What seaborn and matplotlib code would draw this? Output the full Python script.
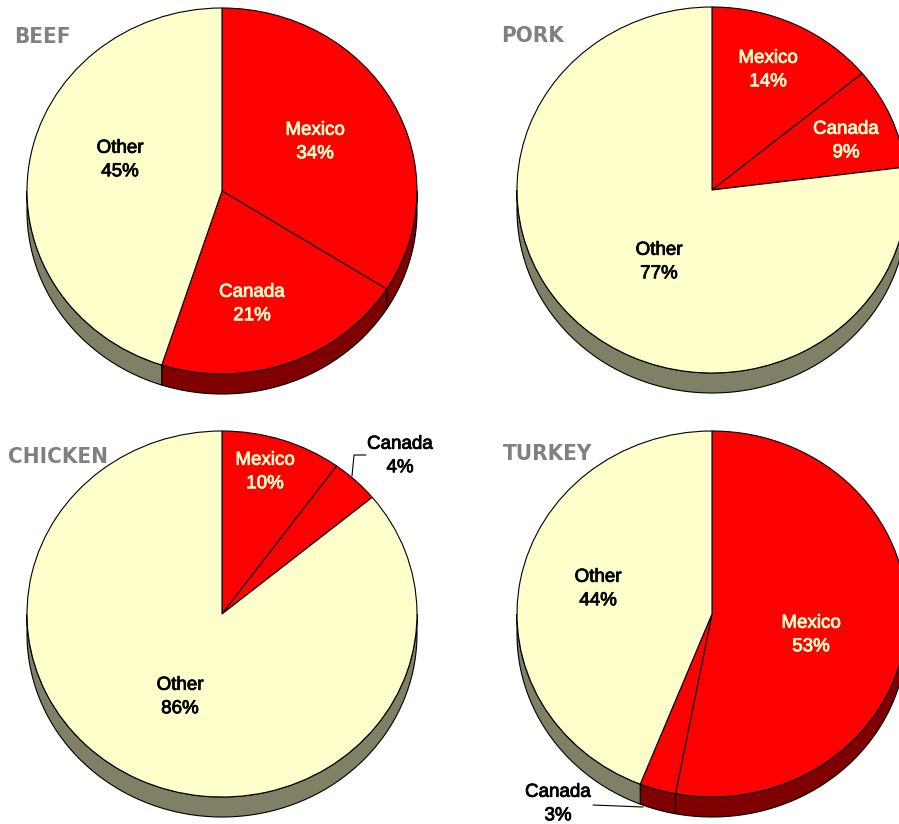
import numpy as np
import matplotlib
matplotlib.use("Agg")
import matplotlib.pyplot as plt
import matplotlib.patheffects as pe
import seaborn as sns

sns.set_theme(style="white")
plt.rcParams["font.family"] = ["Liberation Sans", "DejaVu Sans"]

# ---------------- data ----------------
categories = ["Mexico", "Canada", "Other"]
meats = ["BEEF", "PORK", "CHICKEN", "TURKEY"]
beef = [34, 21, 45]
pork = [14, 9, 77]
chicken = [10, 4, 86]
turkey = [53, 3, 44]
series = [beef, pork, chicken, turkey]

# ---------------- styles / layout ----------------
top_colors = ["#FF0000", "#FF0000", "#FFFFCC"]
side_colors = ["#800000", "#800000", "#808066"]
label_colors = ["#FFFFCC", "#FFFFCC", "#000000"]

W, H = 899, 824
RX, RY, DEPTH = 195, 183, 20
K = RX / RY  # y data units per pixel so circles become ellipses

centers = [(222, 191), (712, 190), (222, 614), (712, 614)]
title_pos = [(14, 43), (501, 42), (8, 463), (503, 460)]
label_pos = [
    [(315, 142), (252, 304), (120, 160)],
    [(768, 70), (846, 141), (659, 262)],
    [(265, 472), (400, 456), (180, 697)],
    [(811, 635), (558, 804), (598, 589)],
]
leaders = {
    (2, 1): [(352, 476), (354, 455), (366, 455)],
    (3, 1): [(593, 805), (643, 807)],
}


def D(px, py):
    return px, (H - py) * K


fig = plt.figure(figsize=(W / 100, H / 100), dpi=100)
ax = fig.add_axes([0, 0, 1, 1])

for p, vals in enumerate(series):
    cx, cy = centers[p]
    dcx, dcy = D(cx, cy)
    fr = np.cumsum([0] + list(vals)) / sum(vals) * 360.0
    # side (extrusion) for the visible front half
    for i in range(len(vals)):
        t0, t1 = max(fr[i], 90.0), min(fr[i + 1], 270.0)
        if t1 <= t0:
            continue
        t = np.radians(np.linspace(t0, t1, 120))
        xs = dcx + RX * np.sin(t)
        ys = dcy + RX * np.cos(t)
        px_ = np.concatenate([xs, xs[::-1]])
        py_ = np.concatenate([ys, (ys - DEPTH * K)[::-1]])
        ax.fill(px_, py_, facecolor=side_colors[i], edgecolor="black",
                linewidth=0.8, zorder=2)
    ax.pie(vals, colors=top_colors, startangle=90, counterclock=False,
           radius=RX, center=(dcx, dcy), frame=True,
           wedgeprops=dict(edgecolor="black", linewidth=0.8, zorder=3))
    # labels
    for i, cat in enumerate(categories):
        lx, ly = label_pos[p][i]
        inside = (p, i) not in leaders
        col = label_colors[i] if inside else "black"
        ax.text(*D(lx, ly), f"{cat}\n{vals[i]}%", ha="center", va="center",
                ma="center", fontsize=13.5, linespacing=1.5, color=col,
                zorder=5,
                path_effects=[pe.withStroke(linewidth=0.6, foreground=col)])
        if not inside:
            pts = leaders[(p, i)]
            ax.plot([D(*q)[0] for q in pts], [D(*q)[1] for q in pts],
                    color="black", linewidth=0.8, zorder=5)
    tx, ty = title_pos[p]
    ax.text(*D(tx, ty), meats[p], ha="left", va="baseline", fontsize=16,
            fontweight="bold", fontstretch="condensed", color="#808080",
            family=["DejaVu Sans"], zorder=5)

ax.set_aspect("auto")
ax.set_xlim(0, W)
ax.set_ylim(0, H * K)
ax.axis("off")
fig.savefig("out.png", dpi=100, facecolor="white")
